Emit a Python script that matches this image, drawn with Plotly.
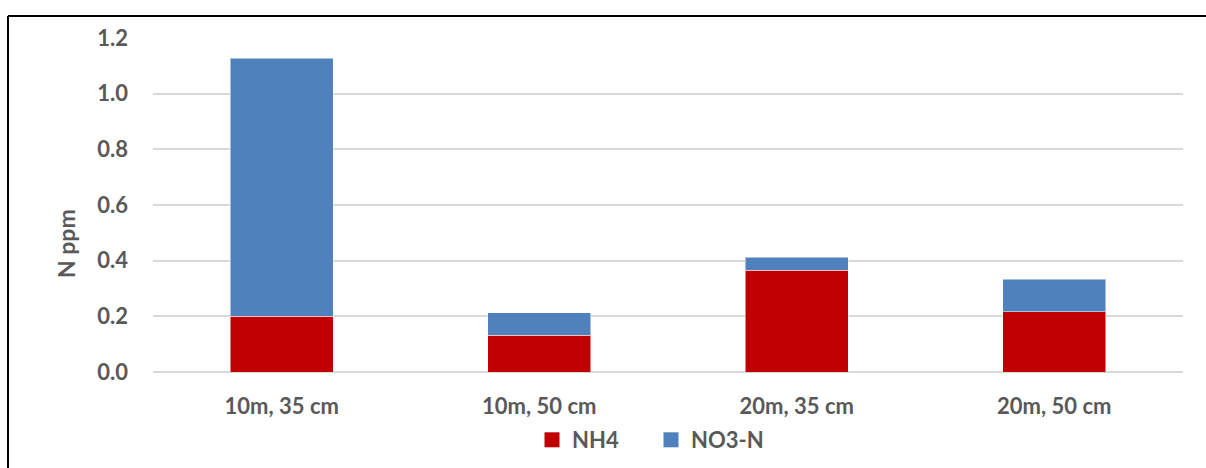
import plotly.graph_objects as go

# Sampling positions (distance, depth)
categories = ["10m, 35 cm", "10m, 50 cm", "20m, 35 cm", "20m, 50 cm"]
nh4 = [0.20, 0.132, 0.366, 0.216]
no3_n = [0.927, 0.080, 0.047, 0.118]
y_ticks = [0.0, 0.2, 0.4, 0.6, 0.8, 1.0, 1.2]

FONT = "Lato"
TEXT = "#595959"
RED, BLUE = "#C00000", "#4F81BD"

fig = go.Figure()
for name, vals, col in [("NH4", nh4, RED), ("NO3-N", no3_n, BLUE)]:
    fig.add_trace(go.Bar(name=name, x=categories, y=vals, showlegend=False, legendgroup=name,
                         marker=dict(color=col, line=dict(color="rgba(255,255,255,0.5)", width=1))))
# legend entries with larger square swatches
for name, col in [("NH4", RED), ("NO3-N", BLUE)]:
    fig.add_trace(go.Scatter(name=name, x=[None], y=[None], mode="markers", legendgroup=name,
                             marker=dict(symbol="square", size=15, color=col)))

W, H = 1206, 468
L, R, T, B = 153, 23, 38, 96
pw, ph = W - L - R, H - T - B

def px_x(x):
    return (x - L) / pw

def px_y(y):
    return (H - B - y) / ph

fig.update_layout(
    width=W, height=H,
    margin=dict(l=L, r=R, t=T, b=B, autoexpand=False),
    barmode="stack", bargap=0.6,
    paper_bgcolor="white", plot_bgcolor="white",
    font=dict(family=FONT, color=TEXT, size=22),
    showlegend=True,
    legend=dict(orientation="h", x=px_x(532), xanchor="left", y=px_y(440), yanchor="middle",
                font=dict(family=FONT, size=22, color=TEXT, weight="bold"),
                itemwidth=30, entrywidth=74, traceorder="normal"),
    xaxis=dict(showgrid=False, showline=False, ticks="", ticklabelstandoff=19,
               automargin=False,
               tickfont=dict(family=FONT, size=22, color=TEXT, weight="bold")),
    yaxis=dict(range=[0, 1.2], tickvals=y_ticks, tickformat=".1f",
               showgrid=True, gridcolor="#D9D9D9", gridwidth=1.5,
               zeroline=True, zerolinecolor="#D9D9D9", zerolinewidth=1.5,
               showline=False, ticks="", ticklabelstandoff=24, automargin=False,
               tickfont=dict(family=FONT, size=22, color=TEXT, weight="bold")),
    annotations=[dict(text="N ppm", textangle=-90, x=px_x(50), y=px_y(244),
                      xref="paper", yref="paper", showarrow=False,
                      font=dict(family=FONT, size=23, color=TEXT, weight="bold"))],
    shapes=[
        dict(type="line", xref="paper", yref="paper", x0=px_x(8), x1=px_x(1210),
             y0=px_y(16), y1=px_y(16), line=dict(color="black", width=2)),
        dict(type="line", xref="paper", yref="paper", x0=px_x(8), x1=px_x(8),
             y0=px_y(16), y1=px_y(470), line=dict(color="black", width=2)),
    ],
)

fig.write_html("out.html")
